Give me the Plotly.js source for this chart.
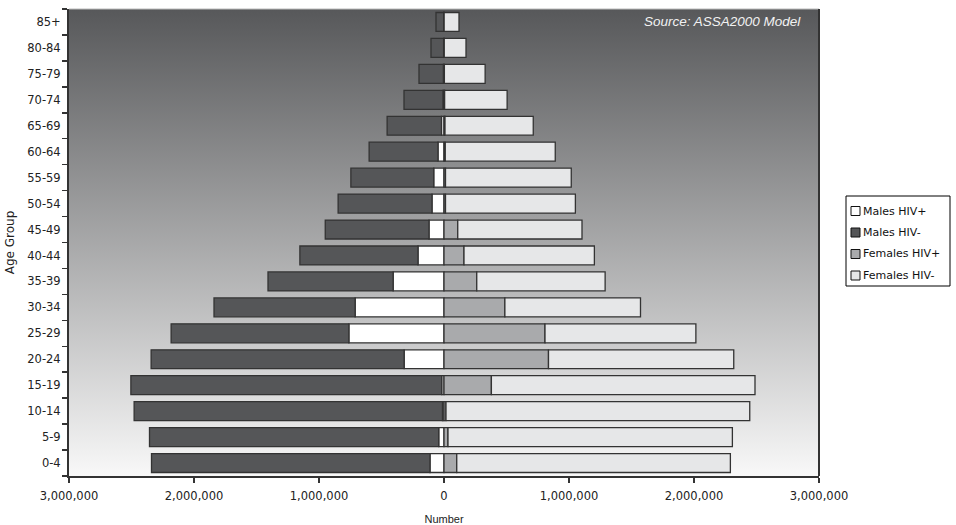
<!DOCTYPE html>
<html>
<head>
<meta charset="utf-8">
<script src="https://cdn.plot.ly/plotly-3.0.1.min.js"></script>
<style>html,body{margin:0;padding:0;background:#fff;}#chart{width:956px;height:525px;}</style>
</head>
<body>
<div id="chart"></div>
<script>
// Age groups (bottom to top)
const ageGroups = ["0-4","5-9","10-14","15-19","20-24","25-29","30-34","35-39","40-44","45-49","50-54","55-59","60-64","65-69","70-74","75-79","80-84","85+"];
// Males (plotted to the left)
const malesHIVpos = [112000, 42000, 12000, 18000, 319000, 761000, 711000, 407000, 208000, 120000, 96000, 82000, 48000, 20000, 8000, 5000, 3000, 2000];
const malesHIVneg = [2228000, 2314000, 2467000, 2487000, 2024000, 1422000, 1129000, 1001000, 945000, 830000, 751000, 663000, 551000, 435000, 312000, 195000, 101000, 62000];
// Females (plotted to the right)
const femalesHIVpos = [102000, 32000, 16000, 379000, 836000, 808000, 487000, 262000, 160000, 110000, 12000, 12000, 10000, 8000, 5000, 3000, 2000, 1000];
const femalesHIVneg = [2189000, 2275000, 2430000, 2109000, 1482000, 1207000, 1085000, 1027000, 1043000, 994000, 1039000, 1006000, 880000, 706000, 500000, 326000, 174000, 119000];
// Series names and fills
const seriesNames = ["Males HIV+", "Males HIV-", "Females HIV+", "Females HIV-"];
const seriesColors = ["#ffffff", "#555658", "#a9aaac", "#e6e7e8"];
// X tick labels
const xTickVals = [-3000000, -2000000, -1000000, 0, 1000000, 2000000, 3000000];
const xTickText = ["3,000,000", "2,000,000", "1,000,000", "0", "1,000,000", "2,000,000", "3,000,000"];

const lineStyle = {color: '#333333', width: 1.3};
function negate(arr){ return arr.map(v => -v); }
const seriesX = [negate(malesHIVpos), negate(malesHIVneg), femalesHIVpos, femalesHIVneg];

const traces = seriesNames.map((name, i) => ({
  name: name, y: ageGroups, x: seriesX[i], type: 'bar', orientation: 'h',
  marker: {color: seriesColors[i], line: lineStyle}
}));

const gradSvg = '<svg xmlns="http://www.w3.org/2000/svg" width="100" height="100" preserveAspectRatio="none">' +
  '<defs><linearGradient id="g" x1="0" y1="0" x2="0" y2="1">' +
  '<stop offset="0" stop-color="#57585a"/><stop offset="1" stop-color="#f8f8f8"/>' +
  '</linearGradient></defs><rect width="100" height="100" fill="url(#g)"/></svg>';
const gradUri = 'data:image/svg+xml;charset=utf-8,' + encodeURIComponent(gradSvg);

const tickFont = {family: 'DejaVu Sans, sans-serif', size: 11.5, color: '#222222'};
const arial = 'Liberation Sans, Arial, sans-serif';

// Plot area in pixels (for the legend box placed outside the plot)
const W = 956, H = 525, ML = 69, MR = 137, MT = 9, MB = 49;
const PW = W - ML - MR, PH = H - MT - MB;
const px = x => (x - ML) / PW;
const py = y => (H - MB - y) / PH;

const shapes = [
  {type: 'line', xref: 'paper', yref: 'paper', x0: 0, x1: 1, y0: 1, y1: 1,
   line: {color: '#bbbbbb', width: 1}},
  {type: 'line', xref: 'paper', yref: 'paper', x0: 1, x1: 1, y0: 0, y1: 1,
   line: {color: '#333333', width: 2}},
  // legend frame
  {type: 'rect', xref: 'paper', yref: 'paper', x0: px(846), x1: px(950), y0: py(286), y1: py(196),
   line: {color: '#000000', width: 1}, fillcolor: '#ffffff'}
];
const annotations = [{
  text: 'Source: ASSA2000 Model', xref: 'paper', yref: 'paper',
  x: px(803), y: py(22), xanchor: 'right', yanchor: 'middle', showarrow: false,
  font: {family: arial, size: 13.5, color: '#f2f2f2', style: 'italic'}
}];
const legendY = [211, 232.5, 254, 275.5];
seriesNames.forEach((name, i) => {
  shapes.push({type: 'rect', xref: 'paper', yref: 'paper',
    x0: px(851), x1: px(860), y0: py(legendY[i] + 4.5), y1: py(legendY[i] - 4.5),
    line: {color: '#111111', width: 1}, fillcolor: seriesColors[i]});
  annotations.push({text: name, xref: 'paper', yref: 'paper', x: px(861), y: py(legendY[i]),
    xanchor: 'left', yanchor: 'middle', showarrow: false,
    font: {family: 'DejaVu Sans, sans-serif', size: 11, color: '#111111'}});
});

const layout = {
  width: W, height: H,
  margin: {l: ML, r: MR, t: MT, b: MB},
  paper_bgcolor: '#ffffff',
  plot_bgcolor: 'rgba(0,0,0,0)',
  font: tickFont,
  barmode: 'relative',
  bargap: 0.27,
  showlegend: false,
  xaxis: {
    range: [-3000000, 3000000],
    tickvals: xTickVals, ticktext: xTickText,
    tickfont: tickFont,
    showgrid: false, zeroline: false,
    showline: true, linecolor: '#333333', linewidth: 2,
    ticks: 'outside', ticklen: 5, tickcolor: '#333333', tickwidth: 1.5,
    ticklabelstandoff: 3,
    title: {text: 'Number', font: {family: arial, size: 11, color: '#222'}, standoff: 15},
    fixedrange: true
  },
  yaxis: {
    type: 'category',
    categoryorder: 'array', categoryarray: ageGroups,
    tickfont: tickFont,
    showgrid: false, zeroline: false,
    showline: true, linecolor: '#333333', linewidth: 2,
    ticks: 'outside', ticklen: 5, tickcolor: '#333333', tickwidth: 1.5,
    tickson: 'boundaries',
    ticklabelstandoff: 4,
    title: {text: 'Age Group', font: {family: 'DejaVu Sans, sans-serif', size: 12, color: '#222'}, standoff: 10},
    fixedrange: true
  },
  images: [{
    source: gradUri, xref: 'paper', yref: 'paper',
    x: 0, y: 1, sizex: 1, sizey: 1, xanchor: 'left', yanchor: 'top',
    sizing: 'stretch', layer: 'below'
  }],
  shapes: shapes,
  annotations: annotations
};

Plotly.newPlot('chart', traces, layout, {displayModeBar: false, staticPlot: true});
</script>
</body>
</html>
